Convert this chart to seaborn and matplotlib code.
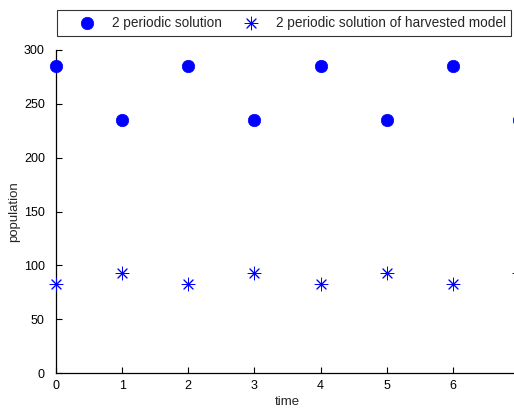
import matplotlib
matplotlib.use("Agg")
import matplotlib.pyplot as plt
import seaborn as sns
import pandas as pd

time = [0, 1, 2, 3, 4, 5, 6, 7]
periodic = [285, 235, 285, 235, 285, 235, 285, 235]
harvested = [83, 93, 83, 93, 83, 93, 83, 93]
labels = ["2 periodic solution", "2 periodic solution of harvested model"]

sns.set_theme(style="white")
plt.rcParams["font.family"] = ["Liberation Sans", "DejaVu Sans"]

fig = plt.figure(figsize=(5.14, 4.09), dpi=100)
ax = fig.add_axes([56/514, 36/409, 463/514, 323/409])

df = pd.DataFrame({"time": time, "periodic": periodic, "harvested": harvested})
sns.scatterplot(data=df, x="time", y="periodic", ax=ax, marker="o", s=80,
                color="#0000FF", edgecolor="#0000FF", linewidth=0.5,
                label=labels[0], clip_on=False, zorder=3)
sns.scatterplot(data=df, x="time", y="harvested", ax=ax, marker=(8, 2, 0), s=85,
                color="#0000FF", linewidth=0.7,
                label=labels[1], clip_on=False, zorder=3)

ax.set_xlim(0, 7)
ax.set_ylim(0, 300)
ax.set_xticks(range(0, 7))
ax.set_yticks(range(0, 301, 50))
ax.tick_params(direction="in", length=4, width=0.8, labelsize=9, colors="black",
               bottom=True, left=True)
ax.tick_params(axis="x", pad=5)
ax.tick_params(axis="y", pad=8)
for s in ["top", "right"]:
    ax.spines[s].set_visible(False)
for s in ["left", "bottom"]:
    ax.spines[s].set_color("black")
    ax.spines[s].set_linewidth(0.9)
ax.set_xlabel("time", fontsize=9.5, labelpad=3)
ax.set_ylabel("population", fontsize=9.5, labelpad=3)

h, l = ax.get_legend_handles_labels()
ax.get_legend().remove()
leg = fig.legend(h, l, loc="upper left", bbox_to_anchor=(57/514, 1 - 10/409),
                 ncol=2, frameon=True, fancybox=False, fontsize=9.8,
                 borderaxespad=0, columnspacing=0.36, handletextpad=0.0,
                 handlelength=3.6, borderpad=0.43, markerscale=1.0)
leg.get_frame().set_edgecolor("black")
leg.get_frame().set_linewidth(0.8)

fig.savefig("out.png", dpi=100)
